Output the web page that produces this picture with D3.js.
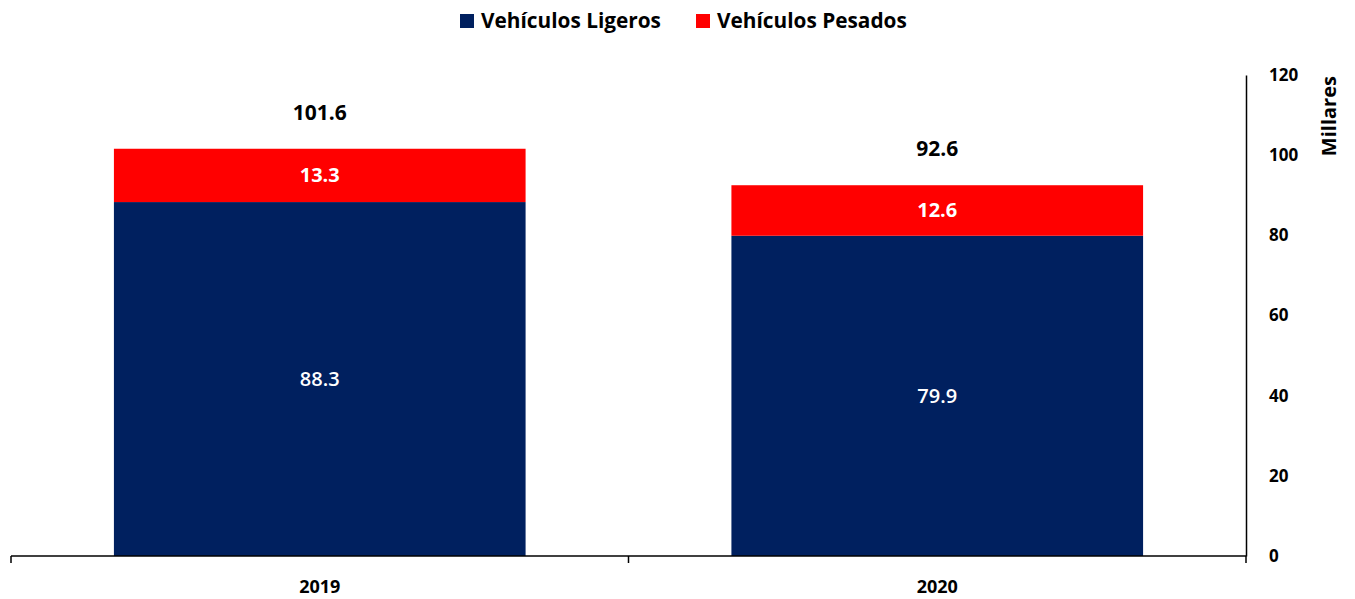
<!DOCTYPE html>
<html>
<head>
<meta charset="utf-8">
<script src="https://cdn.jsdelivr.net/npm/d3@7"></script>
<style>
  html, body { margin: 0; padding: 0; background: #fff; }
  svg { display: block; font-family: "Open Sans", Lato, sans-serif; }
</style>
</head>
<body>
<svg id="chart" width="1355" height="599"></svg>
<script>
const categories = ["2019", "2020"];
const seriesNames = ["Vehículos Ligeros", "Vehículos Pesados"];
const ligeros = [88.3, 79.9];
const pesados = [13.3, 12.6];
const totals = [101.6, 92.6];
const yTicks = [0, 20, 40, 60, 80, 100, 120];
const colors = ["#00205F", "#FF0000"];

const svg = d3.select("#chart");
const x0 = 11, x1 = 1246, yBottom = 556, yTop = 75;

const x = d3.scaleBand().domain(categories).range([x0, x1])
  .paddingInner(1/3).paddingOuter(1/6);
const y = d3.scaleLinear().domain([0, 120]).range([yBottom, yTop]);

const rows = categories.map((c, i) => ({ cat: c, ligeros: ligeros[i], pesados: pesados[i], total: totals[i] }));
const stack = d3.stack().keys(["ligeros", "pesados"]);
const stacked = stack(rows);

const g = svg.append("g");
stacked.forEach((layer, li) => {
  g.selectAll(null).data(layer).enter().append("rect")
    .attr("x", d => x(d.data.cat))
    .attr("width", x.bandwidth())
    .attr("y", d => y(d[1]))
    .attr("height", d => y(d[0]) - y(d[1]))
    .attr("fill", colors[li]);
  g.selectAll(null).data(layer).enter().append("text")
    .attr("x", d => x(d.data.cat) + x.bandwidth() / 2)
    .attr("y", d => y((d[0] + d[1]) / 2))
    .attr("dy", "0.35em")
    .attr("text-anchor", "middle")
    .attr("fill", "#fff")
    .attr("font-size", 20)
    .attr("font-weight", li === 1 ? "bold" : 600)
    .text(d => d3.format(".1f")(d[1] - d[0]));
});

// totals
g.selectAll(null).data(rows).enter().append("text")
  .attr("x", d => x(d.cat) + x.bandwidth() / 2)
  .attr("y", d => y(d.total) - 36)
  .attr("dy", "0.35em")
  .attr("text-anchor", "middle")
  .attr("fill", "#000")
  .attr("font-size", 21)
  .attr("font-weight", "bold")
  .text(d => d3.format(".1f")(d.total));

// x axis
const xAxisG = svg.append("g").attr("transform", `translate(0,${yBottom})`);
xAxisG.append("line").attr("x1", x0).attr("x2", x1).attr("stroke", "#000").attr("stroke-width", 1.5);
[x0, x0 + x.step(), x0 + 2 * x.step()].forEach(px => {
  xAxisG.append("line").attr("x1", px).attr("x2", px).attr("y1", 0).attr("y2", 7)
    .attr("stroke", "#000").attr("stroke-width", 1.5);
});
xAxisG.selectAll(null).data(categories).enter().append("text")
  .attr("x", d => x(d) + x.bandwidth() / 2)
  .attr("y", 37)
  .attr("text-anchor", "middle")
  .attr("font-size", 18)
  .attr("font-weight", "bold")
  .attr("fill", "#000")
  .text(d => d);

// right y axis
const yAxis = d3.axisRight(y).tickValues(yTicks).tickSize(0).tickPadding(23).tickFormat(d3.format("d"));
const yAxisG = svg.append("g").attr("transform", `translate(${x1},0)`).call(yAxis);
yAxisG.select(".domain").attr("stroke", "#000").attr("stroke-width", 1.5);
yAxisG.selectAll("text").attr("font-size", 17).attr("font-weight", "bold")
  .attr("fill", "#000").attr("font-family", "'Open Sans', sans-serif");

svg.append("text")
  .attr("transform", `translate(1336,${(y(120) + y(100)) / 2 + 1}) rotate(-90)`)
  .attr("text-anchor", "middle")
  .attr("font-size", 20)
  .attr("font-weight", "bold")
  .attr("fill", "#000")
  .text("Millares");

// legend
const legend = svg.append("g");
const legendItems = [{ name: seriesNames[0], color: colors[0], x: 460 }, { name: seriesNames[1], color: colors[1], x: 696 }];
legendItems.forEach(it => {
  legend.append("rect").attr("x", it.x).attr("y", 14).attr("width", 14).attr("height", 14).attr("fill", it.color);
  legend.append("text").attr("x", it.x + 21).attr("y", 21).attr("dy", "0.35em")
    .attr("font-size", 20.8).attr("font-weight", "bold").attr("fill", "#000").text(it.name);
});
</script>
</body>
</html>
